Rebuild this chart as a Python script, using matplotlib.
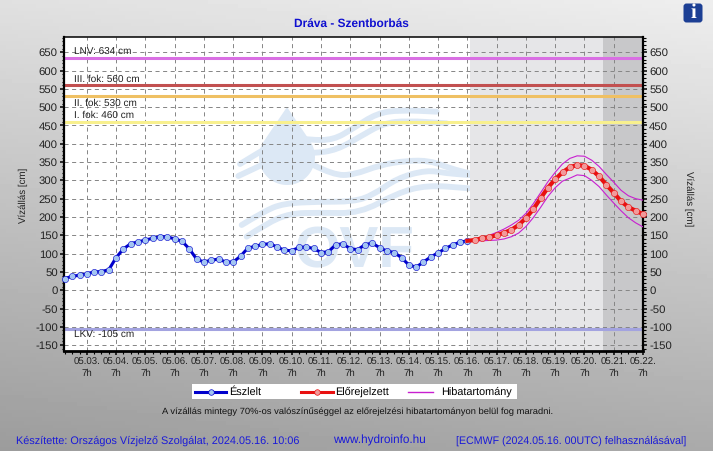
import numpy as np
import matplotlib
matplotlib.use('Agg')
import matplotlib.pyplot as plt
from matplotlib.patches import FancyBboxPatch, PathPatch, Polygon, Rectangle
from matplotlib.path import Path
from matplotlib.ticker import MultipleLocator

plt.rcParams['font.family'] = ['Liberation Sans', 'DejaVu Sans']
plt.rcParams['axes.unicode_minus'] = False
plt.rcParams['text.hinting'] = 'no_hinting'

W, H = 713, 451

# Data: 6 hourly readings, x is days after 05.03. 7h
observed = [32, 38, 41, 45, 50, 51, 56, 89, 113, 127, 132, 137, 142, 146, 146, 140,
            134, 113, 85, 77, 82, 85, 77, 77, 93, 115, 120, 125, 127, 118, 109, 108,
            117, 118, 114, 103, 105, 124, 127, 113, 111, 124, 129, 116, 107, 103, 89,
            69, 63, 77, 91, 102, 114, 124, 131, 135]
forecast = [135, 137, 142, 145, 150, 157, 165, 178, 197, 221, 251, 280, 303, 322, 336,
            342, 340, 329, 311, 288, 266, 243, 227, 217, 208]
upper = [135, 137, 142, 150, 158, 167, 178, 191, 210, 236, 266, 296, 322, 345, 360,
         367, 366, 355, 338, 316, 295, 273, 258, 250, 246]
lower = [135, 135, 135, 136, 137, 140, 146, 156, 174, 198, 226, 256, 280, 298, 306,
         315, 313, 300, 283, 260, 238, 217, 198, 184, 173]
first_day = -0.75
forecast_day = 13.0
dark_from = 17.63

levels = [634, 560, 530, 460, -105]
level_names = ['LNV: 634 cm', 'III. fok: 560 cm', 'II. fok: 530 cm', 'I. fok: 460 cm', 'LKV: -105 cm']
level_colors = ['#d96fe3', '#c25050', '#efc063', '#f8f08e', '#a3a3e0']
level_offsets = [6, 6, -7, 6, -7]  # label centre above the line, px

day_labels = ['05.%02d.\n7h' % d for d in range(3, 23)]

obs_x = first_day + 0.25 * np.arange(len(observed))
fc_x = forecast_day + 0.25 * np.arange(len(forecast))


def px(x, y):
    return x / W, 1 - y / H


fig = plt.figure(figsize=(W / 100, H / 100), dpi=100)

# background gradient + white plot area + watermark, all in pixels
bg = fig.add_axes([0, 0, 1, 1])
bg.set_xlim(0, W)
bg.set_ylim(H, 0)
bg.axis('off')
gx, gy = np.meshgrid(np.linspace(0, 1, 120), np.linspace(0, 1, 120))
bg.imshow(238 - 68 * gy - 14 * (1 - gx), cmap='gray', vmin=0, vmax=255,
          extent=[0, W, H, 0], aspect='auto')
bg.add_patch(Rectangle((64, 36.5), 579, 314.5, fc='white', ec='none'))

wm = '#dce8f5'
waves = [
    [(60, 222), (120, 185), (200, 140), (270, 150), (340, 150), (400, 115), (470, 70), (540, 60), (650, 65)],
    [(55, 258), (125, 225), (200, 190), (280, 190), (350, 180), (420, 140), (490, 100), (560, 92), (680, 100)],
    [(280, 225), (340, 255), (400, 255), (480, 225), (560, 212), (630, 212), (690, 235), (748, 250)],
    [(65, 405), (130, 365), (190, 340), (300, 335), (400, 335), (460, 315), (530, 265), (620, 240), (680, 250), (748, 255)],
    [(80, 440), (140, 400), (210, 370), (300, 368), (420, 370), (530, 310), (620, 285), (748, 295)],
]
for w in waves:
    pts = [(220 + a / 3, 90 + b / 3) for a, b in w]
    verts = [pts[0]]
    codes = [Path.MOVETO]
    for i in range(1, len(pts) - 1):
        mid = ((pts[i][0] + pts[i + 1][0]) / 2, (pts[i][1] + pts[i + 1][1]) / 2)
        verts += [pts[i], mid]
        codes += [Path.CURVE3, Path.CURVE3]
    verts.append(pts[-1])
    codes.append(Path.LINETO)
    bg.add_patch(PathPatch(Path(verts, codes), fc='none', ec=wm, lw=4.2, capstyle='round'))

drop = [(287, 107)] + [(287 + 28 * np.cos(t), 157 + 28 * np.sin(t)) for t in np.radians(np.linspace(-35, 215, 50))]
bg.add_patch(Polygon(drop, fc=wm, ec='none'))
bg.text(355, 252, 'OVF', color=wm, fontsize=42, fontweight='bold', ha='center', va='center')

# main chart
ax = fig.add_axes([64 / W, 1 - 351 / H, 579 / W, 314.5 / H])
ax.patch.set_visible(False)
ax.set_xlim(-0.78, 19)
ax.set_ylim(-166, 693)

ax.axvspan(13.1, 19, color='#e6e6e8', lw=0, zorder=0)
ax.axvspan(dark_from, 19, color='#c8c8ca', lw=0, zorder=0.1)

ax.xaxis.set_major_locator(MultipleLocator(1))
ax.xaxis.set_minor_locator(MultipleLocator(0.25))
ax.yaxis.set_major_locator(MultipleLocator(50))
ax.yaxis.set_minor_locator(MultipleLocator(10))
ax.set_xticks(np.arange(len(day_labels)), day_labels)
ax.grid(True, which='major', color='#858585', ls=(0, (4.2, 3.6)), lw=0.7, zorder=0.5)
ax.set_axisbelow(True)
ax.tick_params(axis='both', which='major', length=3.2, width=1.1, labelsize=8.2, pad=1.2)
ax.tick_params(axis='both', which='minor', length=1.8, width=0.8)
ax.tick_params(axis='y', right=True, labelright=True, which='both')
ax.tick_params(axis='y', which='major', labelcolor='#222222')
ax.tick_params(axis='x', which='major', labelsize=6.9, pad=1.5, labelcolor='#222222')
ax.spines['left'].set_linewidth(1.6)
ax.spines['right'].set_linewidth(1.6)
ax.spines['top'].set_linewidth(1.1)
ax.spines['bottom'].set_linewidth(2.0)

for val, name, col, off in zip(levels, level_names, level_colors, level_offsets):
    ax.axhline(val, color=col, lw=2.2, zorder=2)
    ax.annotate(name, xy=(-0.45, val), xytext=(0, off * 0.72), textcoords='offset points',
                fontsize=7.2, color='#222222', va='center', ha='left', zorder=3)

ax.plot(fc_x, upper, color='#c81fd0', lw=0.8, zorder=4)
ax.plot(fc_x, lower, color='#c81fd0', lw=0.8, zorder=4)
ax.plot(obs_x, observed, color='#0000cc', lw=2.2, marker='o', ms=4.5, mfc='#a3c5f2',
        mec='#0000cc', mew=0.4, zorder=5, clip_on=False)
ax.plot(fc_x, forecast, color='#e81010', lw=3.0, marker='o', ms=4.5, mfc='#f29a9a',
        mec='#e81010', mew=0.4, markevery=(1, 1), zorder=6, clip_on=False)

# legend box, laid out by hand to keep the uneven gaps of the original
bg.add_patch(Rectangle((192, 384), 325, 15, fc='white', ec='none', zorder=3))
bg.plot([195, 226], [392, 392], color='#0000cc', lw=2.2, zorder=4)
bg.plot([210.5], [392], marker='o', ms=4, mfc='#a3c5f2', mec='#0000cc', mew=0.5, zorder=5)
bg.text(229, 392, 'Észlelt', fontsize=7.8, va='center', ha='left', zorder=5)
bg.plot([301, 333], [392, 392], color='#e81010', lw=2.2, zorder=4)
bg.plot([317], [392], marker='o', ms=4, mfc='#f29a9a', mec='#e81010', mew=0.5, zorder=5)
bg.text(335, 392, 'Előrejelzett', fontsize=7.8, va='center', ha='left', zorder=5)
bg.plot([408, 433], [392, 392], color='#c81fd0', lw=1, zorder=4)
bg.text(441, 392, 'Hibatartomány', fontsize=7.8, va='center', ha='left', zorder=5)

# texts
fig.text(*px(351, 24), 'Dráva - Szentborbás', color='#1010d0', fontsize=8.6, fontweight='bold',
         ha='center', va='center')
fig.text(*px(23, 195), 'Vízállás [cm]', rotation=90, fontsize=7, color='#222222', ha='center', va='center')
fig.text(*px(689, 199), 'Vízállás [cm]', rotation=270, fontsize=7, color='#222222', ha='center', va='center')
fig.text(*px(358, 412), 'A vízállás mintegy 70%-os valószínűséggel az előrejelzési hibatartományon belül fog maradni.',
         fontsize=6.76, color='#111111', ha='center', va='center')
blue = '#1a1ad8'
fig.text(*px(16, 444), 'Készítette: Országos Vízjelző Szolgálat, 2024.05.16. 10:06', color=blue,
         fontsize=7.85, ha='left', va='baseline')
fig.text(*px(333, 444), 'www.hydroinfo.hu', color=blue, fontsize=8.5, ha='left', va='baseline')
fig.text(*px(456, 444), '[ECMWF (2024.05.16. 00UTC) felhasználásával]', color=blue, fontsize=7.7,
         ha='left', va='baseline')

# info icon
bg.add_patch(FancyBboxPatch((683.5, 3.5), 19, 19, boxstyle='round,pad=0,rounding_size=3', fc='#1c3f94', ec='none', zorder=5))
bg.text(693, 13, 'i', color='white', fontsize=15, fontweight='bold', family='Liberation Serif',
        ha='center', va='center', zorder=6)

fig.savefig('out.png', dpi=100)
